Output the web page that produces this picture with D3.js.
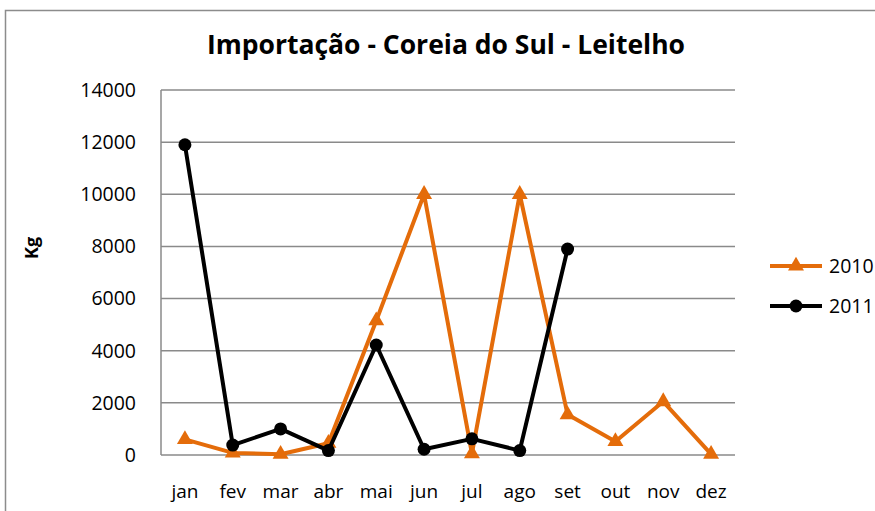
<!DOCTYPE html>
<html lang="pt">
<head>
  <meta charset="UTF-8" />
  <title>Importação - Coreia do Sul - Leitelho</title>
  <script src="https://cdn.jsdelivr.net/npm/d3@7"></script>
  <style>
    body { margin: 0; background: #fff; }
    text { font-family: "Open Sans", "Noto Sans", sans-serif; fill: #000; }
  </style>
</head>
<body>
<script>
  // data
  const months = ['jan', 'fev', 'mar', 'abr', 'mai', 'jun', 'jul', 'ago', 'set', 'out', 'nov', 'dez'];
  const values2010 = [600, 80, 30, 450, 5150, 10000, 50, 10000, 1550, 520, 2050, 30];
  const values2011 = [11900, 380, 1000, 170, 4220, 220, 620, 170, 7900];
  const yTicks = [0, 2000, 4000, 6000, 8000, 10000, 12000, 14000];

  const width = 875, height = 511;
  const margin = { left: 161, right: 140, top: 90, bottom: 56 };
  const orange = '#E46C0A';

  const svg = d3.select('body').append('svg')
    .attr('width', width)
    .attr('height', height);

  // outer chart border
  svg.append('rect')
    .attr('x', 5.5).attr('y', 10.5)
    .attr('width', 900).attr('height', 600)
    .attr('fill', 'none')
    .attr('stroke', '#8c8c8c')
    .attr('stroke-width', 1.5);

  const x = d3.scaleBand()
    .domain(months)
    .range([margin.left, width - margin.right]);

  const y = d3.scaleLinear()
    .domain([0, 14000])
    .range([height - margin.bottom, margin.top]);

  // gridlines
  svg.append('g')
    .selectAll('line')
    .data(yTicks)
    .join('line')
    .attr('x1', margin.left)
    .attr('x2', width - margin.right)
    .attr('y1', d => y(d))
    .attr('y2', d => y(d))
    .attr('stroke', '#8a8a8a')
    .attr('stroke-width', 1.5);

  // y axis line
  svg.append('line')
    .attr('x1', margin.left).attr('x2', margin.left)
    .attr('y1', y(0)).attr('y2', y(14000))
    .attr('stroke', '#8a8a8a')
    .attr('stroke-width', 1.5);

  // y tick labels
  svg.append('g')
    .selectAll('text')
    .data(yTicks)
    .join('text')
    .attr('x', 136)
    .attr('y', d => y(d))
    .attr('dy', '0.35em')
    .attr('text-anchor', 'end')
    .style('font-size', '19.5px')
    .text(d => d);

  // x labels
  svg.append('g')
    .selectAll('text')
    .data(months)
    .join('text')
    .attr('x', d => x(d) + x.bandwidth() / 2)
    .attr('y', 498)
    .attr('text-anchor', 'middle')
    .style('font-size', '19px')
    .text(d => d);

  // title
  svg.append('text')
    .attr('x', 446).attr('y', 54)
    .attr('text-anchor', 'middle')
    .style('font-size', '26.5px')
    .style('font-weight', 'bold')
    .text('Importação - Coreia do Sul - Leitelho');

  // y axis title
  svg.append('text')
    .attr('transform', 'translate(38,248) rotate(-90)')
    .attr('text-anchor', 'middle')
    .style('font-size', '18px')
    .style('font-weight', 'bold')
    .text('Kg');

  const cx = (d, i) => x(months[i]) + x.bandwidth() / 2;
  const line = d3.line().x(cx).y(d => y(d));
  const tri = d3.symbol().type(d3.symbolTriangle).size(110);

  // 2010 series
  svg.append('path')
    .datum(values2010)
    .attr('d', line)
    .attr('fill', 'none')
    .attr('stroke', orange)
    .attr('stroke-width', 4)
    .attr('stroke-linejoin', 'round');

  svg.append('g')
    .selectAll('path')
    .data(values2010)
    .join('path')
    .attr('d', tri)
    .attr('transform', (d, i) => `translate(${cx(d, i)},${y(d)})`)
    .attr('fill', orange);

  // 2011 series
  svg.append('path')
    .datum(values2011)
    .attr('d', line)
    .attr('fill', 'none')
    .attr('stroke', '#000')
    .attr('stroke-width', 4)
    .attr('stroke-linejoin', 'round');

  svg.append('g')
    .selectAll('circle')
    .data(values2011)
    .join('circle')
    .attr('cx', cx)
    .attr('cy', d => y(d))
    .attr('r', 6.5)
    .attr('fill', '#000');

  // legend
  const legend = [
    { label: '2010', color: orange, marker: 'tri', yPos: 266 },
    { label: '2011', color: '#000', marker: 'circle', yPos: 306 }
  ];
  const lg = svg.append('g')
    .selectAll('g')
    .data(legend)
    .join('g')
    .attr('transform', d => `translate(770,${d.yPos})`);

  lg.append('line')
    .attr('x1', 0).attr('x2', 52)
    .attr('stroke', d => d.color)
    .attr('stroke-width', 4);

  lg.filter(d => d.marker === 'tri').append('path')
    .attr('d', tri)
    .attr('transform', 'translate(26,0)')
    .attr('fill', d => d.color);

  lg.filter(d => d.marker === 'circle').append('circle')
    .attr('cx', 26).attr('r', 6.5)
    .attr('fill', d => d.color);

  lg.append('text')
    .attr('x', 59)
    .attr('dy', '0.35em')
    .style('font-size', '19.5px')
    .text(d => d.label);
</script>
</body>
</html>
